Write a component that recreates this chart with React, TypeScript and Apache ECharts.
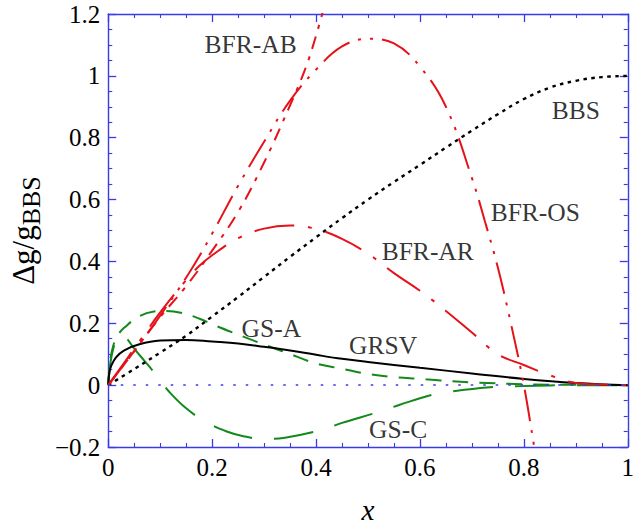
import React, { useEffect, useRef } from 'react';
import * as echarts from 'echarts';

// ---- data ----
const BBS: number[][] = [
  [0, 0], [0.05, 0.052], [0.1, 0.105], [0.15, 0.16], [0.2, 0.222], [0.25, 0.285],
  [0.3, 0.35], [0.35, 0.415], [0.4, 0.478], [0.45, 0.54], [0.5, 0.6], [0.55, 0.657],
  [0.6, 0.712], [0.65, 0.768], [0.7, 0.823], [0.75, 0.876], [0.8, 0.925], [0.85, 0.962],
  [0.9, 0.984], [0.95, 0.996], [1, 1],
];
const GRSV: number[][] = [
  [0, 0], [0.002, 0.04], [0.006, 0.064], [0.015, 0.09], [0.03, 0.112], [0.06, 0.132],
  [0.1, 0.144], [0.15, 0.146], [0.2, 0.141], [0.25, 0.135], [0.3, 0.124], [0.35, 0.112],
  [0.4, 0.098], [0.45, 0.085], [0.5, 0.075], [0.6, 0.056], [0.7, 0.038], [0.8, 0.02],
  [0.9, 0.007], [1, 0],
];
const GS_A: number[][] = [
  [0, 0], [0.004, 0.08], [0.01, 0.13], [0.02, 0.165], [0.031, 0.186], [0.06, 0.223],
  [0.088, 0.238], [0.11, 0.24], [0.143, 0.233], [0.177, 0.214], [0.2, 0.197], [0.24, 0.17],
  [0.305, 0.128], [0.343, 0.105], [0.4, 0.07], [0.45, 0.053], [0.5, 0.036], [0.55, 0.026],
  [0.6, 0.02], [0.64, 0.015], [0.7, 0.009], [0.8, 0.003], [0.9, 0.001], [1, 0],
];
const GS_C: number[][] = [
  [0, 0], [0.004, 0.07], [0.01, 0.12], [0.018, 0.15], [0.025, 0.165], [0.035, 0.152],
  [0.05, 0.118], [0.07, 0.078], [0.085, 0.048], [0.1, 0.016], [0.116, -0.019], [0.15, -0.075],
  [0.187, -0.118], [0.228, -0.15], [0.26, -0.165], [0.3, -0.174], [0.34, -0.17], [0.41, -0.145],
  [0.45, -0.122], [0.52, -0.087], [0.56, -0.064], [0.634, -0.027], [0.672, -0.018],
  [0.742, -0.006], [0.8, -0.003], [0.9, 0], [1, 0],
];
const BFR_AR: number[][] = [
  [0, 0], [0.05, 0.118], [0.1, 0.235], [0.15, 0.34], [0.175, 0.385], [0.2, 0.42],
  [0.25, 0.475], [0.3, 0.506], [0.35, 0.516], [0.4, 0.505], [0.45, 0.473], [0.5, 0.425],
  [0.55, 0.362], [0.6, 0.305], [0.65, 0.24], [0.7, 0.17], [0.75, 0.1], [0.8, 0.065],
  [0.85, 0.032], [0.9, 0.007], [0.95, 0.002], [1, 0],
];
const BFR_OS: number[][] = [
  [0, 0], [0.05, 0.11], [0.1, 0.225], [0.155, 0.361], [0.2, 0.49], [0.25, 0.645],
  [0.3, 0.787], [0.35, 0.92], [0.4, 1.02], [0.45, 1.095], [0.5, 1.12], [0.55, 1.105],
  [0.6, 1.03], [0.65, 0.9], [0.7, 0.67], [0.725, 0.53], [0.75, 0.38], [0.775, 0.2],
  [0.8, 0.0], [0.82, -0.2], [0.83, -0.3],
];
const BFR_AB: number[][] = [
  [0, 0], [0.05, 0.11], [0.1, 0.22], [0.15, 0.32], [0.2, 0.435], [0.25, 0.56],
  [0.3, 0.72], [0.35, 0.905], [0.38, 1.026], [0.4, 1.13], [0.42, 1.25],
];
const ZERO_LINE: number[] = [0];

const curveLabels: string[] = ['BFR-AB', 'BBS', 'BFR-OS', 'BFR-AR', 'GS-A', 'GRSV', 'GS-C'];
const curveLabelPos: number[][] = [
  [0.274, 1.1], [0.9, 0.887], [0.822, 0.558], [0.615, 0.431], [0.314, 0.182], [0.529, 0.128], [0.558, -0.144],
];

const X_MIN = 0, X_MAX = 1, X_STEP = 0.2;
const Y_MIN = -0.2, Y_MAX = 1.2, Y_STEP = 0.2;

// ---- styles ----
const SERIF = 'Liberation Serif, Times New Roman, serif';
const AXIS_BLUE = '#3a3ae6';
const RED = '#e5121a';
const GREEN = '#13891a';

function fmt(v: number): string {
  const r = Math.round(v * 10) / 10;
  const s = String(Math.abs(r));
  return r < 0 ? '\u2212' + s : s;
}

function axisBase(kind: 'x' | 'y', showLabel: boolean) {
  return {
    type: 'value',
    min: kind === 'x' ? X_MIN : Y_MIN,
    max: kind === 'x' ? X_MAX : Y_MAX,
    interval: kind === 'x' ? X_STEP : Y_STEP,
    axisLine: { show: true, onZero: false, lineStyle: { color: AXIS_BLUE, width: 1.4 } },
    axisTick: { show: true, inside: true, length: 8, lineStyle: { color: AXIS_BLUE, width: 1.3 } },
    minorTick: { show: true, splitNumber: 4, length: 4, lineStyle: { color: AXIS_BLUE, width: 1.1 } },
    splitLine: { show: false },
    minorSplitLine: { show: false },
    axisLabel: {
      show: showLabel,
      margin: 8,
      formatter: (v: number) => fmt(v),
      fontFamily: SERIF,
      fontSize: 25,
      color: '#000',
    },
  };
}

function lineSeries(name: string, data: number[][], color: string, width: number, dash: any, z = 2) {
  return {
    type: 'line',
    name,
    data,
    xAxisIndex: 0,
    yAxisIndex: 0,
    showSymbol: false,
    symbol: 'none',
    smooth: 0.4,
    clip: true,
    silent: true,
    z,
    lineStyle: { color, width, type: dash, cap: 'butt' },
  };
}

export default function App() {
  const ref = useRef<HTMLDivElement>(null);
  useEffect(() => {
    if (!ref.current) return;
    const chart = echarts.init(ref.current, undefined, { renderer: 'svg' });
    const option: any = {
      animation: false,
      backgroundColor: '#fff',
      textStyle: { fontFamily: SERIF },
      grid: { left: 107, right: 4.5, top: 14, bottom: 76.3 },
      xAxis: [
        {
          ...axisBase('x', true),
          position: 'bottom',
          name: 'x',
          nameLocation: 'middle',
          nameGap: 48,
          nameTextStyle: { fontFamily: SERIF, fontStyle: 'italic', fontSize: 29, color: '#000' },
        },
        { ...axisBase('x', false), position: 'top' },
      ],
      yAxis: [
        {
          ...axisBase('y', true),
          position: 'left',
          name: '{a|\u0394g/g}{b|BBS}',
          nameLocation: 'middle',
          nameGap: 60,
          nameRotate: 90,
          nameTextStyle: {
            color: '#000',
            fontFamily: SERIF,
            rich: {
              a: { fontFamily: SERIF, fontSize: 31, color: '#000' },
              b: { fontFamily: SERIF, fontSize: 26, color: '#000', padding: [15, 0, 0, 0] },
            },
          },
        },
        { ...axisBase('y', false), position: 'right' },
      ],
      series: [
        {
          ...lineSeries('BBS', BBS, '#000', 2.4, [3.5, 4.5], 3),
          markLine: {
            silent: true,
            symbol: ['none', 'none'],
            label: { show: false },
            lineStyle: { color: AXIS_BLUE, type: [2.5, 10], width: 1.6 },
            data: ZERO_LINE.map((v) => ({ yAxis: v })),
          },
        },
        lineSeries('GRSV', GRSV, '#000', 2, 'solid', 3),
        lineSeries('GS-A', GS_A, GREEN, 2, [16, 11], 2),
        lineSeries('GS-C', GS_C, GREEN, 2, [40, 22], 2),
        lineSeries('BFR-AR', BFR_AR, RED, 2, [40, 14, 4, 14], 4),
        lineSeries('BFR-OS', BFR_OS, RED, 2, [32, 9, 3, 9, 3, 9], 4),
        lineSeries('BFR-AB', BFR_AB, RED, 2, [13, 8, 4, 8], 4),
        {
          type: 'scatter',
          name: 'labels',
          xAxisIndex: 0,
          yAxisIndex: 0,
          symbolSize: 0,
          silent: true,
          z: 10,
          data: curveLabels.map((n, i) => ({ name: n, value: curveLabelPos[i] })),
          label: {
            show: true,
            position: 'inside',
            formatter: '{b}',
            fontFamily: SERIF,
            fontSize: 25.5,
            color: '#000',
          },
        },
      ],
    };
    chart.setOption(option);
    return () => chart.dispose();
  }, []);
  return (
    <div
      ref={ref}
      style={{ position: 'fixed', left: 0, top: 0, width: 637, height: 529, background: '#fff' }}
    />
  );
}
